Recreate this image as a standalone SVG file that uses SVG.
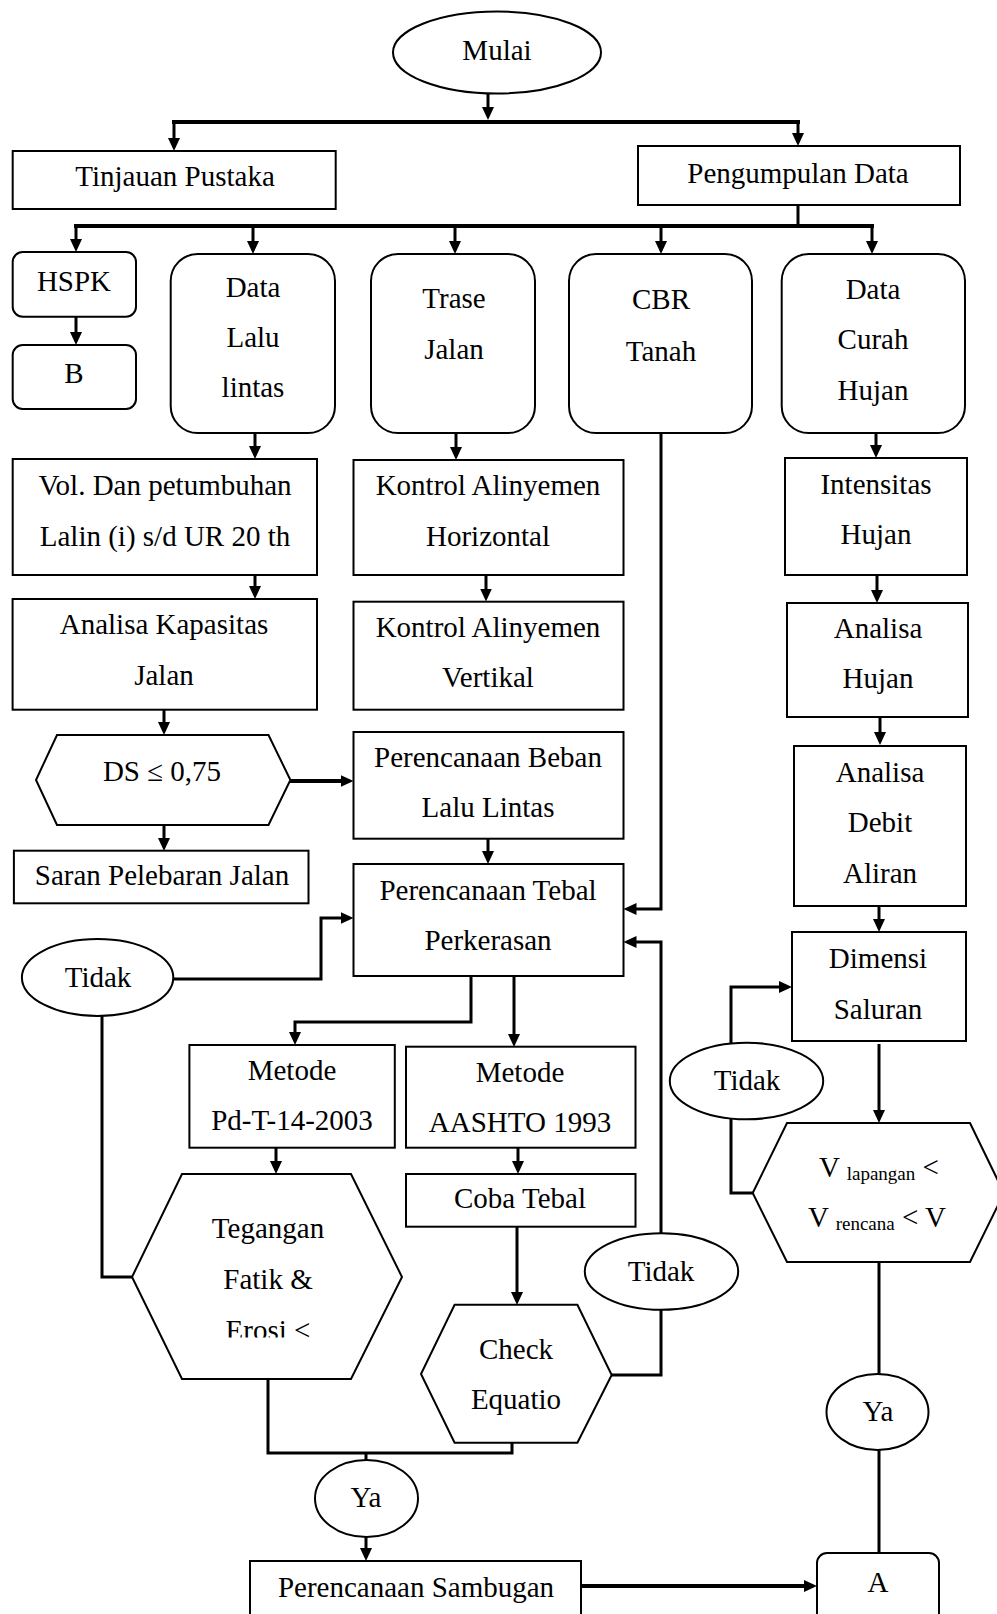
<svg xmlns="http://www.w3.org/2000/svg" width="997" height="1614" viewBox="0 0 997 1614">
<style>
  .n { fill: #fff; stroke: #000; stroke-width: 2; }
  .t { font-family: "Liberation Serif", "Times New Roman", serif; font-size: 29px; fill: #000; text-anchor: middle; }
  .s { font-size: 19px; }
  .c { fill: none; stroke: #000; stroke-width: 3; }
  .w { stroke-width: 4; }
  .a { marker-end: url(#ah); }
</style>
<defs>
  <marker id="ah" markerUnits="userSpaceOnUse" markerWidth="13" markerHeight="12" viewBox="0 0 13 12" refX="9" refY="6" orient="auto">
    <path d="M0,0 L13,6 L0,12 Z" fill="#000"/>
  </marker>
  <clipPath id="clipErosi"><rect x="130" y="1300" width="280" height="37.5"/></clipPath>
</defs>
<rect x="0" y="0" width="997" height="1614" fill="#fff"/>

<!-- connectors -->
<g id="connectors">
  <path class="c a" d="M488,93 V116"/>
  <path class="c w" d="M172,122 H800"/>
  <path class="c a" d="M174,122 V147"/>
  <path class="c a" d="M798,122 V142"/>
  <path class="c" d="M798,205 V228"/>
  <path class="c w" d="M74,226 H874"/>
  <path class="c a" d="M76,226 V248"/>
  <path class="c a" d="M253,226 V250"/>
  <path class="c a" d="M455,226 V250"/>
  <path class="c a" d="M661,226 V250"/>
  <path class="c a" d="M872,226 V250"/>
  <path class="c a" d="M76,317 V341"/>
  <path class="c a" d="M255,433 V455"/>
  <path class="c a" d="M456,433 V456"/>
  <path class="c a" d="M661,433 V909 H627.5"/>
  <path class="c a" d="M876,433 V454"/>
  <path class="c a" d="M255,575 V595"/>
  <path class="c a" d="M486,575 V597.5"/>
  <path class="c a" d="M877,575 V599"/>
  <path class="c a" d="M164,710 V731"/>
  <path class="c w a" d="M290,781 H349.5"/>
  <path class="c a" d="M164,825 V847"/>
  <path class="c a" d="M880,717 V741"/>
  <path class="c a" d="M488,839 V860"/>
  <path class="c a" d="M879,906 V928"/>
  <path class="c a" d="M173,979 H321 V918 H349.5"/>
  <path class="c" d="M102,1016 V1277 H132"/>
  <path class="c a" d="M471,976 V1022 H295 V1041"/>
  <path class="c a" d="M514,976 V1043"/>
  <path class="c a" d="M276,1148 V1170"/>
  <path class="c a" d="M518,1148 V1170"/>
  <path class="c a" d="M517,1227 V1301"/>
  <path class="c" d="M612,1375 H661 V1310"/>
  <path class="c a" d="M661,1233 V942 H627.5"/>
  <path class="c" d="M268,1379 V1453 H512 V1443"/>
  <path class="c" d="M366,1453 V1460"/>
  <path class="c a" d="M366,1537 V1557"/>
  <path class="c w a" d="M581,1586 H813"/>
  <path class="c a" d="M879,1044 V1119"/>
  <path class="c a" d="M731,1043 V987 H788"/>
  <path class="c" d="M753,1193 H731 V1119"/>
  <path class="c" d="M879,1262 V1374"/>
  <path class="c" d="M879,1450 V1553"/>
</g>

<!-- nodes -->
<g id="n-mulai"><ellipse class="n" cx="497" cy="52.5" rx="104" ry="41"/><text class="t" x="497" y="60">Mulai</text></g>
<g id="n-tinjauan"><rect class="n" x="12.7" y="151" width="323" height="58"/><text class="t" x="175" y="186">Tinjauan Pustaka</text></g>
<g id="n-pengumpulan"><rect class="n" x="638" y="146" width="322" height="59"/><text class="t" x="798" y="183">Pengumpulan Data</text></g>

<g id="n-hspk"><rect class="n" x="12.7" y="252" width="123.3" height="64.7" rx="10"/><text class="t" x="74" y="291">HSPK</text></g>
<g id="n-b"><rect class="n" x="12.7" y="345" width="123.3" height="64" rx="10"/><text class="t" x="74" y="383">B</text></g>
<g id="n-datalalu"><rect class="n" x="170.7" y="254" width="164.3" height="179" rx="27"/>
  <text class="t" x="253" y="297">Data</text><text class="t" x="253" y="347">Lalu</text><text class="t" x="253" y="397">lintas</text></g>
<g id="n-trase"><rect class="n" x="371" y="254" width="164" height="179" rx="27"/>
  <text class="t" x="454" y="308">Trase</text><text class="t" x="454" y="359">Jalan</text></g>
<g id="n-cbr"><rect class="n" x="569" y="254" width="183" height="179" rx="27"/>
  <text class="t" x="661" y="309">CBR</text><text class="t" x="661" y="361">Tanah</text></g>
<g id="n-curah"><rect class="n" x="781.7" y="254" width="183.3" height="179" rx="27"/>
  <text class="t" x="873" y="299">Data</text><text class="t" x="873" y="349">Curah</text><text class="t" x="873" y="400">Hujan</text></g>

<g id="n-vol"><rect class="n" x="12.7" y="459" width="304.3" height="116"/>
  <text class="t" x="165" y="495">Vol. Dan petumbuhan</text><text class="t" x="165" y="546">Lalin (i) s/d UR 20 th</text></g>
<g id="n-kontrolh"><rect class="n" x="353.5" y="460" width="270" height="115"/>
  <text class="t" x="488" y="495">Kontrol Alinyemen</text><text class="t" x="488" y="546">Horizontal</text></g>
<g id="n-intensitas"><rect class="n" x="785" y="458" width="182" height="117"/>
  <text class="t" x="876" y="494">Intensitas</text><text class="t" x="876" y="544">Hujan</text></g>

<g id="n-kapasitas"><rect class="n" x="12.6" y="599" width="304.4" height="110.7"/>
  <text class="t" x="164" y="634">Analisa Kapasitas</text><text class="t" x="164" y="685">Jalan</text></g>
<g id="n-kontrolv"><rect class="n" x="353.5" y="601.7" width="270" height="108"/>
  <text class="t" x="488" y="637">Kontrol Alinyemen</text><text class="t" x="488" y="687">Vertikal</text></g>
<g id="n-analisahujan"><rect class="n" x="787" y="603" width="181" height="114"/>
  <text class="t" x="878" y="638">Analisa</text><text class="t" x="878" y="688">Hujan</text></g>

<g id="n-ds"><polygon class="n" points="57,735 268.5,735 290.4,780 268.5,825 57,825 36,780"/>
  <text class="t" x="162" y="781">DS ≤ 0,75</text></g>
<g id="n-beban"><rect class="n" x="353.5" y="732" width="270" height="106.7"/>
  <text class="t" x="488" y="767">Perencanaan Beban</text><text class="t" x="488" y="817">Lalu Lintas</text></g>
<g id="n-debit"><rect class="n" x="794" y="746" width="172" height="160"/>
  <text class="t" x="880" y="782">Analisa</text><text class="t" x="880" y="832">Debit</text><text class="t" x="880" y="883">Aliran</text></g>

<g id="n-saran"><rect class="n" x="13.9" y="850.7" width="294.6" height="52.6"/>
  <text class="t" x="162" y="885">Saran Pelebaran Jalan</text></g>
<g id="n-tebal"><rect class="n" x="353.5" y="864" width="270" height="112"/>
  <text class="t" x="488" y="900">Perencanaan Tebal</text><text class="t" x="488" y="950">Perkerasan</text></g>
<g id="n-dimensi"><rect class="n" x="792" y="932" width="174" height="109"/>
  <text class="t" x="878" y="968">Dimensi</text><text class="t" x="878" y="1019">Saluran</text></g>

<g id="n-tidak1"><ellipse class="n" cx="97.6" cy="977.5" rx="75.7" ry="38.5"/><text class="t" x="98" y="987">Tidak</text></g>
<g id="n-pd"><rect class="n" x="189.4" y="1045" width="205.4" height="102.7"/>
  <text class="t" x="292" y="1080">Metode</text><text class="t" x="292" y="1130">Pd-T-14-2003</text></g>
<g id="n-aashto"><rect class="n" x="406" y="1046.7" width="229.5" height="101"/>
  <text class="t" x="520" y="1082">Metode</text><text class="t" x="520" y="1132">AASHTO 1993</text></g>
<g id="n-tidak3"><ellipse class="n" cx="746.5" cy="1081" rx="76.7" ry="38.3"/><text class="t" x="747" y="1090">Tidak</text></g>
<g id="n-coba"><rect class="n" x="406" y="1174" width="229.5" height="52.7"/>
  <text class="t" x="520" y="1208">Coba Tebal</text></g>

<g id="n-vcheck"><polygon class="n" points="787,1123 970,1123 1004,1193 970,1262 787,1262 752.7,1193"/>
  <text class="t" x="819" y="1177" style="text-anchor:start">V <tspan class="s" dy="3">lapangan</tspan><tspan dy="-3"> &lt;</tspan></text>
  <text class="t" x="808" y="1227" style="text-anchor:start">V <tspan class="s" dy="3">rencana</tspan><tspan dy="-3"> &lt; V</tspan></text></g>

<g id="n-tegangan"><polygon class="n" points="182,1174 351,1174 402,1277 351,1379 182,1379 132,1277"/>
  <text class="t" x="268" y="1238">Tegangan</text><text class="t" x="268" y="1289">Fatik &amp;</text>
  <text class="t" x="268" y="1340" clip-path="url(#clipErosi)">Erosi &lt;</text></g>
<g id="n-tidak2"><ellipse class="n" cx="661.5" cy="1271.5" rx="76.7" ry="38.3"/><text class="t" x="661" y="1281">Tidak</text></g>
<g id="n-check"><polygon class="n" points="454.6,1304.7 577.4,1304.7 611.7,1375 577.4,1442.7 454.6,1442.7 421,1374"/>
  <text class="t" x="516" y="1359">Check</text><text class="t" x="516" y="1409">Equatio</text></g>

<g id="n-ya2"><ellipse class="n" cx="877.5" cy="1412" rx="51" ry="38"/><text class="t" x="878" y="1421">Ya</text></g>
<g id="n-ya1"><ellipse class="n" cx="366.5" cy="1498.5" rx="51.5" ry="38.5"/><text class="t" x="366" y="1507">Ya</text></g>
<g id="n-sambungan"><rect class="n" x="250" y="1561" width="331" height="60"/>
  <text class="t" x="416" y="1597">Perencanaan Sambugan</text></g>
<g id="n-a"><rect class="n" x="817" y="1553" width="122" height="70" rx="10"/><text class="t" x="878" y="1592">A</text></g>
</svg>
